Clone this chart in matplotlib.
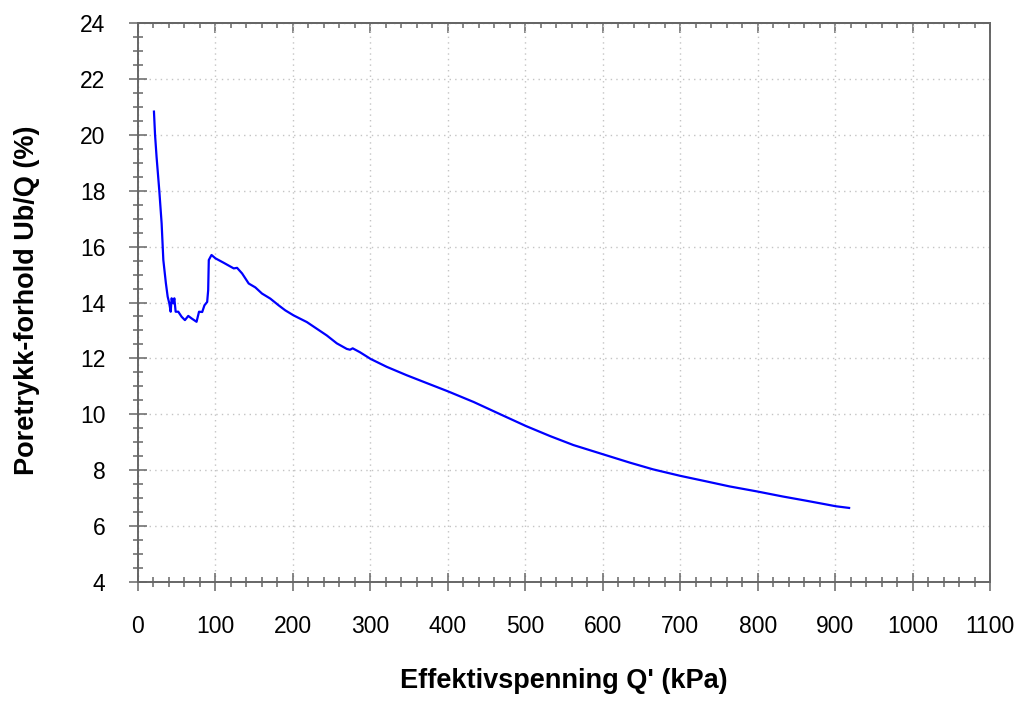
import matplotlib
matplotlib.use("Agg")
import matplotlib.pyplot as plt
from matplotlib.ticker import MultipleLocator, NullFormatter

plt.rcParams['font.family'] = ['Liberation Sans', 'DejaVu Sans']

stress_kpa = [20.6, 22.0, 24.0, 27.5, 30.5, 32.7, 36.0, 38.3, 40.4, 42.2, 43.4, 45.6, 46.9,
              48.6, 52.0, 56.3, 60.6, 64.9, 69.2, 75.6, 78.8, 82.9, 85.8, 89.3, 90.6,
              91.4, 94.9, 100.0, 110.7, 123.6, 127.9, 134.4, 142.9, 151.5, 160.1, 170.8,
              181.5, 190.1, 200.8, 218.0, 230.9, 243.8, 256.6, 269.5, 273.7, 277.2, 286.6,
              300.4, 321.0, 346.7, 372.5, 400.3, 433.4, 467.8, 500.9, 532.1, 562.1, 600.3,
              635.1, 665.0, 699.8, 733.7, 763.7, 799.3, 832.3, 862.4, 883.7, 901.0, 918.1]
ratio_pct = [20.83, 20.0, 19.2, 18.0, 16.83, 15.52, 14.69, 14.21, 13.97, 13.67, 14.15, 13.97, 14.15,
             13.67, 13.67, 13.49, 13.37, 13.52, 13.43, 13.31, 13.67, 13.66, 13.90, 14.02, 14.44,
             15.52, 15.70, 15.58, 15.42, 15.22, 15.24, 15.04, 14.68, 14.54, 14.32, 14.14,
             13.90, 13.72, 13.54, 13.30, 13.06, 12.82, 12.54, 12.34, 12.31, 12.36, 12.22,
             11.98, 11.70, 11.40, 11.12, 10.82, 10.44, 10.00, 9.58, 9.22, 8.90, 8.57,
             8.27, 8.03, 7.80, 7.60, 7.42, 7.24, 7.06, 6.91, 6.80, 6.71, 6.65]

fig = plt.figure(figsize=(10.22, 7.01), dpi=100)
ax = fig.add_axes([138/1022, 1-582/701, 852/1022, 559/701])

ax.plot(stress_kpa, ratio_pct, color='#0000ff', lw=1.6)

ax.set_xlim(0, 1100)
ax.set_ylim(4, 24)
ax.xaxis.set_major_locator(MultipleLocator(100))
ax.xaxis.set_minor_locator(MultipleLocator(20))
ax.yaxis.set_major_locator(MultipleLocator(2))
ax.yaxis.set_minor_locator(MultipleLocator(0.5))

ax.grid(True, which='major', color='#c4c4c4', linestyle=(0, (1, 3)), lw=1.0)
for s in ax.spines.values():
    s.set_color('#666666')
    s.set_linewidth(1.4)

tick_col = '#666666'
ax.tick_params(axis='both', which='major', direction='inout', length=13, width=1.1, color=tick_col,
               labelsize=16.5, pad=17)
ax.tick_params(axis='both', which='minor', direction='inout', length=6.5, width=1.1, color=tick_col)

# top axis ticks pointing inward, no labels
top = ax.secondary_xaxis('top')
top.xaxis.set_major_locator(MultipleLocator(100))
top.xaxis.set_minor_locator(MultipleLocator(20))
top.xaxis.set_major_formatter(NullFormatter())
top.tick_params(which='major', direction='in', length=7, width=1.1, color=tick_col)
top.tick_params(which='minor', direction='in', length=3.6, width=1.1, color=tick_col)
top.spines['top'].set_color('#666666')
top.spines['top'].set_linewidth(1.4)

fig.text(564/1022, 1-688/701, "Effektivspenning Q' (kPa)", fontsize=19.5, fontweight='bold',
         ha='center', va='baseline')
fig.text(27/1022, 1-300/701, "Poretrykk-forhold Ub/Q (%)", fontsize=19.5, fontweight='bold',
         ha='center', va='center', rotation=90)

fig.savefig('out.png', dpi=100)
